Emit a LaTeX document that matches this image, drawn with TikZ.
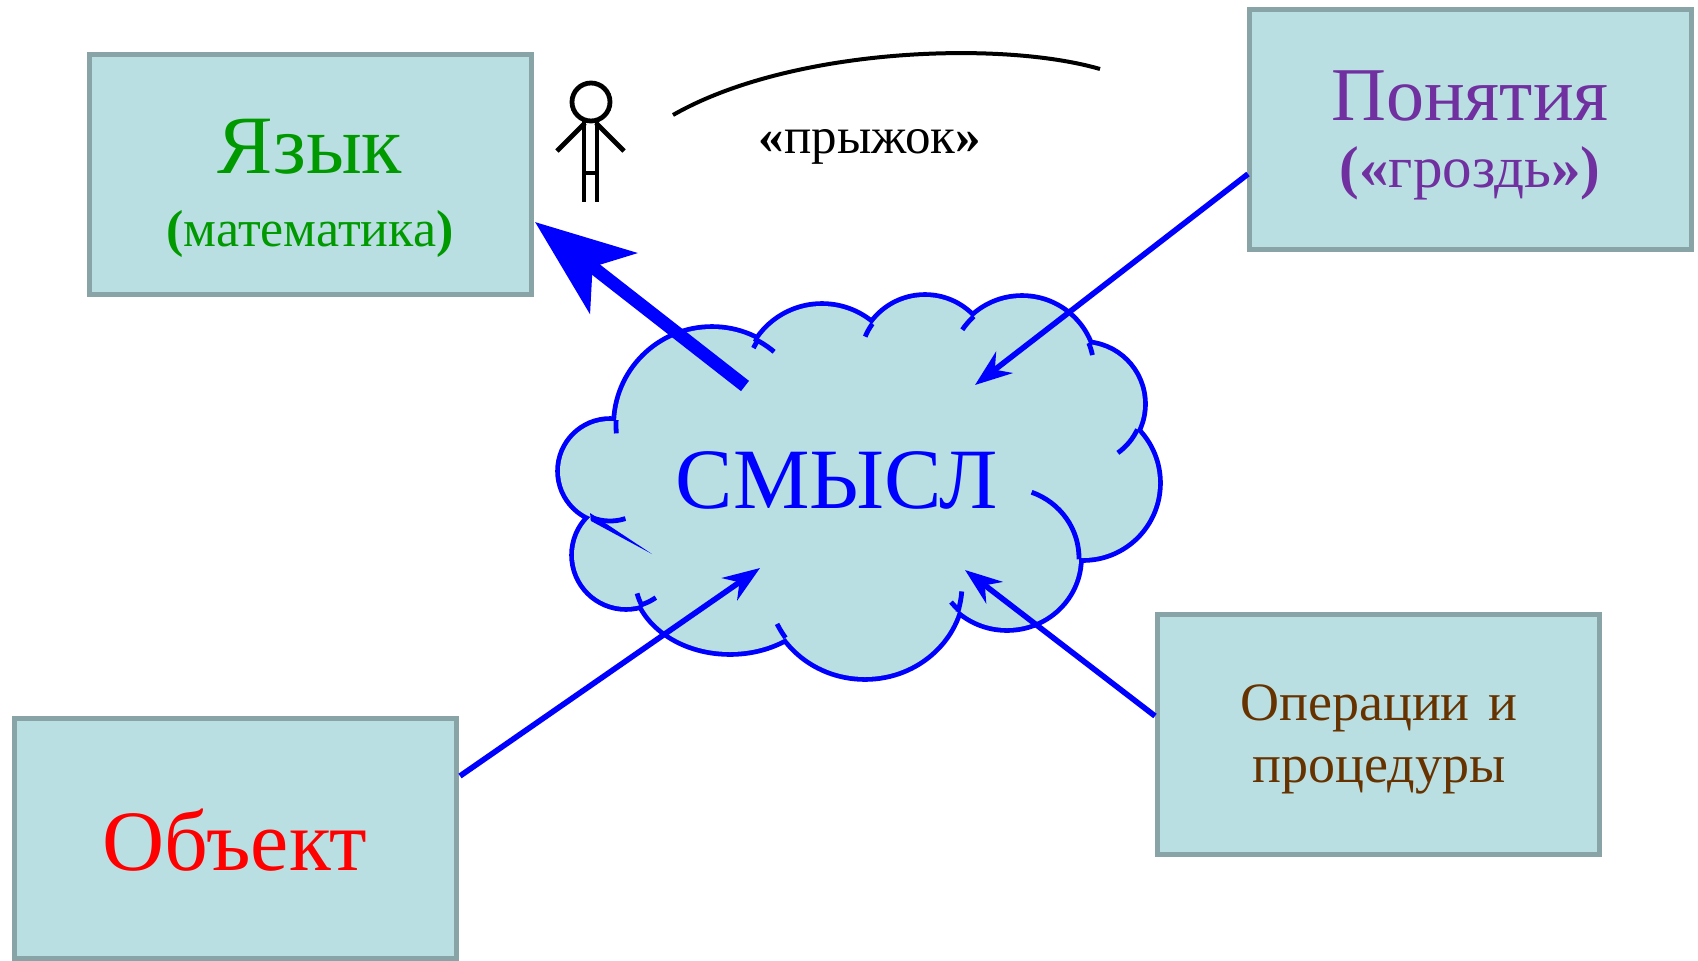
\documentclass[tikz,border=0pt]{standalone}
\usepackage{fontspec}
\setmainfont{Liberation Serif}
\newfontfamily\tnr{Liberation Serif}
\usetikzlibrary{arrows.meta}
\definecolor{boxfill}{RGB}{186,223,226}
\definecolor{boxline}{RGB}{137,164,167}
\definecolor{yazgreen}{RGB}{0,153,0}
\definecolor{ponpurple}{RGB}{112,48,160}
\definecolor{opbrown}{RGB}{102,51,0}
\newcommand{\fsz}[1]{\tnr\fontsize{#1}{#1}\selectfont}
\newcommand{\puffarc}[5]{\draw[cloudtick] (#1) ++(#3:#2) arc[start angle=#3, end angle=#4, #5];}
\begin{document}
\begin{tikzpicture}[x=0.5pt,y=-0.5pt,
  box/.style={draw=boxline, fill=boxfill, line width=2.5pt, minimum width=221pt, minimum height=120pt, inner sep=0pt},
  conn/.style={draw=blue, line width=2.8pt, -{Stealth[length=18.5pt,width=13.5pt,inset=6pt]}},
  bigconn/.style={draw=blue, line width=6.5pt, -{Stealth[length=49.5pt,width=38pt,inset=13pt]}},
  puffline/.style={draw=blue, line width=4.8pt},
  cloudtick/.style={draw=blue, line width=2.4pt},
  stick/.style={draw=black, line width=2.4pt},
  lbl/.style={anchor=base, inner sep=0pt},
]
\useasboundingbox (0,0) rectangle (1698,960);

% boxes
\node[box] (yaz) at (310.5,174.5) {};
\node[box] (pon) at (1470.5,129.5) {};
\node[box] (oper) at (1378.5,734.5) {};
\node[box] (obj) at (235,838) {};

% cloud puffs
\coordinate (p1) at (712,425);
\coordinate (p2) at (822,383);
\coordinate (p3) at (925,362);
\coordinate (p4) at (1022,370);
\coordinate (p5) at (1083,404);
\coordinate (p6) at (1083,483);
\coordinate (p7) at (1007,558);
\coordinate (p8) at (865,585);
\coordinate (p9) at (730,578);
\coordinate (p10) at (626,555);
\coordinate (p11) at (610,471);
\def\puffs{(p1) circle[radius=96] (p2) circle[radius=77] (p3) circle[radius=65]
 (p4) circle[radius=72] (p5) circle[radius=60] (p6) circle[radius=75]
 (p7) circle[x radius=72, y radius=70] (p8) circle[x radius=97, y radius=92]
 (p9) circle[x radius=95, y radius=74] (p10) circle[radius=52] (p11) circle[radius=50]}
\draw[puffline] \puffs;
\fill[boxfill] \puffs (850,470) circle[x radius=230, y radius=140];
% inner arcs of the cloud
\puffarc{p1}{96}{-64}{-49.7}{radius=96}
\puffarc{p2}{77}{214}{207}{radius=77}
\puffarc{p3}{65}{216}{203}{radius=65}
\puffarc{p4}{72}{228}{214}{radius=72}
\puffarc{p4}{72}{-22}{-12}{radius=72}
\puffarc{p5}{60}{25}{54.5}{radius=60}
\puffarc{p7}{72 and 70}{1}{-70}{x radius=72, y radius=70}
\puffarc{p7}{72 and 70}{131}{141}{x radius=72, y radius=70}
\puffarc{p8}{97 and 92}{17}{4}{x radius=97, y radius=92}
\puffarc{p8}{97 and 92}{145}{155}{x radius=97, y radius=92}
\puffarc{p10}{52}{74}{55}{radius=52}
\puffarc{p9}{95 and 74}{157}{168}{x radius=95, y radius=74}
\puffarc{p11}{50}{112}{72}{radius=50}
\puffarc{p1}{96}{183}{175}{radius=96}
\fill[blue] (590,513) -- (652,554) -- (591,521) -- cycle;

% texts
\node[lbl, text=yazgreen, font=\fsz{41.5}] (yazt) at (310,173) {Язык};
\node[lbl, text=yazgreen, font=\fsz{26}] (yazs) at (310,246) {{\bfseries(}математика{\bfseries)}};
\node[lbl, text=ponpurple, font=\fsz{38}] (pont) at (1470,120) {Понятия};
\node[lbl, text=ponpurple, font=\fsz{29.5}] (pons) at (1470,187) {{\bfseries(«}гроздь{\bfseries»)}};
\node[lbl, text=opbrown, font=\fsz{27}] (opt1) at (1379,720) {Операции\hspace{0.35em}и};
\node[lbl, text=opbrown, font=\fsz{27}] (opt2) at (1379,782) {процедуры};
\node[lbl, text=red, font=\fsz{43}] (objt) at (235,870) {Объект};
\node[lbl, text=blue, font=\fsz{43}] (smysl) at (837,508) {СМЫСЛ};
\node[lbl, text=black, font=\fsz{25.5}] (jump) at (870,153) {{\bfseries«}прыжок{\bfseries»}};

% stick figure
\draw[stick] (591,102) circle[radius=19];
\draw[stick] (584,121) -- (584,202);
\draw[stick] (597,121) -- (597,202);
\draw[stick] (584,173) -- (597,173);
\draw[stick] (585,123) -- (557,151);
\draw[stick] (596,123) -- (624,151);

% jump arc
\coordinate (jl) at (673,115);
\coordinate (jr) at (1100,69);
\draw[line width=2pt] (jl) .. controls (790,48) and (1000,40) .. (jr);

% connectors
\coordinate (c1) at (745,386);
\coordinate (t1) at (535,222);
\coordinate (s2) at (1248,174);
\coordinate (t2) at (975,385);
\coordinate (s3) at (460,776);
\coordinate (t3) at (760,568);
\coordinate (s4) at (1155,716);
\coordinate (t4) at (965,570);
\draw[bigconn] (c1) -- (t1);
\draw[conn] (s2) -- (t2);
\draw[conn] (s3) -- (t3);
\draw[conn] (s4) -- (t4);
\end{tikzpicture}
\end{document}
